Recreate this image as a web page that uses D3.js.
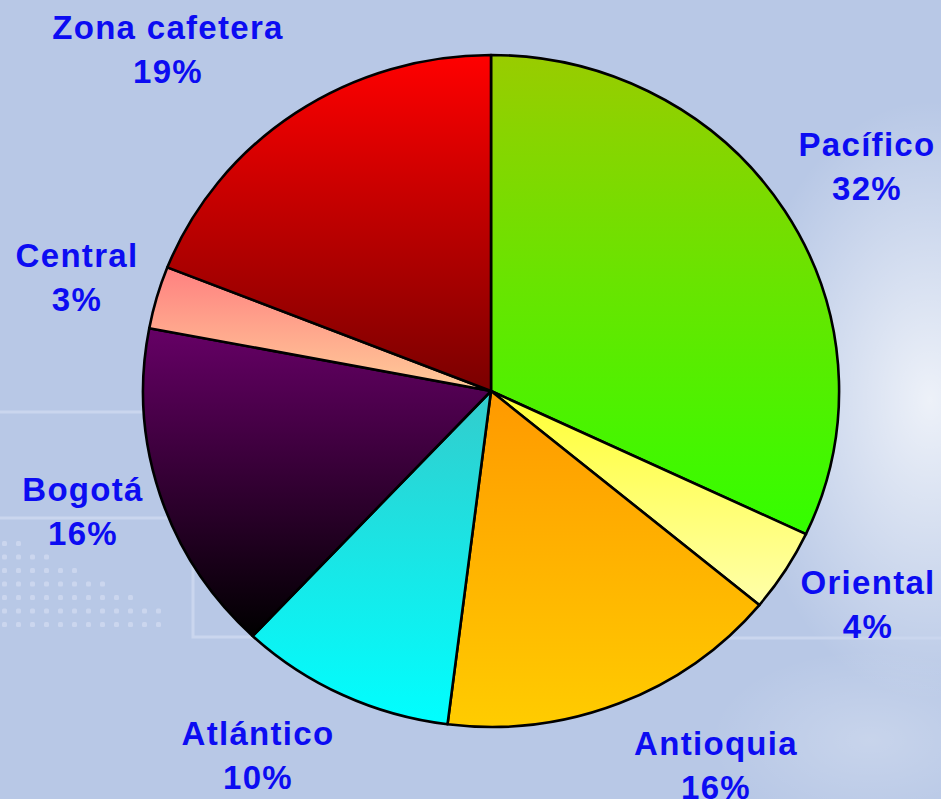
<!DOCTYPE html>
<html>
<head>
<meta charset="utf-8">
<script src="https://cdn.jsdelivr.net/npm/d3@7"></script>
<style>
  body { margin: 0; background: #b8c8e6; }
  svg { display: block; }
  .lbl { font-family: "Liberation Sans", Arial, sans-serif; font-weight: bold; font-size: 33px; fill: #0c0cf2; letter-spacing: 1.3px; }
</style>
</head>
<body>
<svg width="941" height="799"></svg>
<script>
// data, clockwise from 12 o'clock
const regions = ['Pacífico', 'Oriental', 'Antioquia', 'Atlántico', 'Bogotá', 'Central', 'Zona cafetera'];
const shares = [32, 4, 16, 10, 16, 3, 19];
const pctLabels = ['32%', '4%', '16%', '10%', '16%', '3%', '19%'];

// slice gradients, top -> bottom
const topColors = ['#99cc00', '#ffff33', '#ff9900', '#33cccc', '#660066', '#ff8080', '#ff0000'];
const bottomColors = ['#33ff00', '#ffffaa', '#ffcc00', '#00ffff', '#000000', '#ffcc99', '#7a0000'];

// label anchors (x centre, baseline of first line)
const labelPos = [[867, 156], [868, 594], [716, 755], [258, 745], [83, 501], [77, 267], [168, 39]];

const svg = d3.select('svg');
const W = 941, H = 799;
const cx = 491, cy = 391, rx = 348, ry = 336;

const defs = svg.append('defs');

// background
const glow = defs.append('radialGradient').attr('id', 'glow')
    .attr('cx', 0.5).attr('cy', 0.5).attr('r', 0.5);
glow.append('stop').attr('offset', 0).attr('stop-color', '#ffffff').attr('stop-opacity', 0.75);
glow.append('stop').attr('offset', 1).attr('stop-color', '#ffffff').attr('stop-opacity', 0);

svg.append('rect').attr('width', W).attr('height', H).attr('fill', '#b8c8e6');
svg.append('ellipse').attr('cx', 930).attr('cy', 400).attr('rx', 190).attr('ry', 300).attr('fill', 'url(#glow)');
svg.append('ellipse').attr('cx', 870).attr('cy', 740).attr('rx', 160).attr('ry', 90).attr('fill', 'url(#glow)').attr('opacity', 0.3);

const deco = svg.append('g').attr('stroke', '#cad6ee').attr('stroke-width', 3).attr('fill', 'none');
deco.append('line').attr('x1', 0).attr('x2', 480).attr('y1', 412).attr('y2', 412);
deco.append('line').attr('x1', 0).attr('x2', 480).attr('y1', 518).attr('y2', 518);
deco.append('path').attr('d', 'M193,518 V637 H480');
deco.append('line').attr('x1', 700).attr('x2', W).attr('y1', 638).attr('y2', 638);

const dots = svg.append('g').attr('fill', '#cbd6ee');
d3.range(7).forEach(r => {
    const n = 2 + r * 2;
    d3.range(Math.min(n, 12)).forEach(c => {
        dots.append('rect').attr('x', 2 + c * 14).attr('y', 541 + r * 13.5)
            .attr('width', 5).attr('height', 5).attr('rx', 1.5);
    });
});

// slice gradients
regions.forEach((r, i) => {
    const g = defs.append('linearGradient').attr('id', 'grad' + i)
        .attr('x1', 0).attr('y1', 0).attr('x2', 0).attr('y2', 1);
    g.append('stop').attr('offset', 0).attr('stop-color', topColors[i]);
    g.append('stop').attr('offset', 1).attr('stop-color', bottomColors[i]);
});

const pie = d3.pie().sort(null).value(d => d);
const arc = d3.arc().innerRadius(0).outerRadius(1);

const slices = pie(shares);

svg.append('g')
    .attr('transform', `translate(${cx}, ${cy}) scale(${rx}, ${ry})`)
    .selectAll('path')
    .data(slices)
    .enter()
    .append('path')
    .attr('d', arc)
    .attr('fill', (d, i) => `url(#grad${i})`)
    .attr('stroke', '#000')
    .attr('stroke-width', 2.6)
    .attr('stroke-linejoin', 'round')
    .attr('vector-effect', 'non-scaling-stroke');

const labels = svg.append('g').selectAll('text')
    .data(regions)
    .enter()
    .append('text')
    .attr('class', 'lbl')
    .attr('text-anchor', 'middle')
    .attr('x', (d, i) => labelPos[i][0])
    .attr('y', (d, i) => labelPos[i][1]);

labels.append('tspan').text(d => d);
labels.append('tspan')
    .attr('x', (d, i) => labelPos[i][0])
    .attr('dy', 44)
    .text((d, i) => pctLabels[i]);
</script>
</body>
</html>
